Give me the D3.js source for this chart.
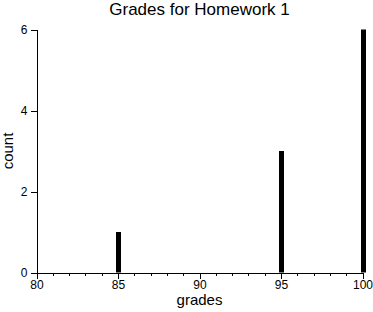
<!DOCTYPE html>
<html>
<head>
<meta charset="utf-8">
<script src="https://cdn.jsdelivr.net/npm/d3@7"></script>
<style>
  html, body { margin: 0; padding: 0; background: #fff; }
  svg { display: block; font-family: "Liberation Sans", Arial, Helvetica, sans-serif; }
  .axis path, .axis line { stroke: #000; shape-rendering: crispEdges; }
  .axis text { font-size: 12px; fill: #000; }
</style>
</head>
<body>
<svg id="chart" width="373" height="312"></svg>
<script>
  // data
  const grades = [85, 95, 100];
  const counts = [1, 3, 6];
  const xTicks = [80, 85, 90, 95, 100];
  const yTicks = [0, 2, 4, 6];

  (function () {
    const svg = d3.select("#chart");
    const m = { left: 36.5, right: 362.5, top: 29.5, bottom: 272.5 };

    const x = d3.scaleLinear().domain([80, 100]).range([m.left, m.right]);
    const y = d3.scaleLinear().domain([0, 6]).range([m.bottom, m.top]);

    // minor ticks every 1 unit
    svg.append("g")
      .attr("class", "axis")
      .attr("transform", `translate(0,${m.bottom})`)
      .call(d3.axisBottom(x).tickValues(d3.range(80, 101, 1)).tickSize(3).tickFormat("").tickSizeOuter(0));

    svg.append("g")
      .attr("class", "axis")
      .attr("transform", `translate(0,${m.bottom})`)
      .call(d3.axisBottom(x).tickValues(xTicks).tickSize(6).tickSizeOuter(0).tickPadding(2).tickFormat(d3.format("d")))
      .call(g => g.select(".domain").remove());

    svg.append("g")
      .attr("class", "axis")
      .attr("transform", `translate(${m.left},0)`)
      .call(d3.axisLeft(y).tickValues(yTicks).tickSize(6).tickSizeOuter(0).tickPadding(3).tickFormat(d3.format("d")));

    // bars
    svg.append("g").selectAll("rect")
      .data(grades)
      .join("rect")
      .attr("x", d => Math.round(x(d)) - 2)
      .attr("width", 5)
      .attr("y", (d, i) => y(counts[i]))
      .attr("height", (d, i) => y(0) - y(counts[i]))
      .attr("fill", "#000");

    // title and labels
    svg.append("text")
      .attr("x", (m.left + m.right) / 2)
      .attr("y", 15)
      .attr("text-anchor", "middle")
      .style("font-size", "17px")
      .text("Grades for Homework 1");

    svg.append("text")
      .attr("x", (m.left + m.right) / 2)
      .attr("y", 305)
      .attr("text-anchor", "middle")
      .style("font-size", "15px")
      .text("grades");

    svg.append("text")
      .attr("transform", `translate(13,${(m.top + m.bottom) / 2}) rotate(-90)`)
      .attr("text-anchor", "middle")
      .style("font-size", "15px")
      .text("count");
  })();
</script>
</body>
</html>
